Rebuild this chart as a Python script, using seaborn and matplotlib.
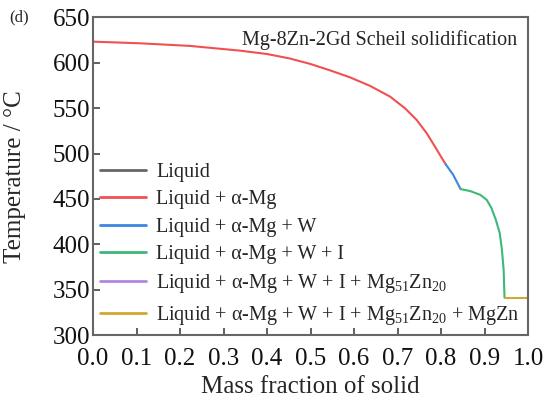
import numpy as np
import pandas as pd
import matplotlib
matplotlib.use("Agg")
import matplotlib.pyplot as plt
import seaborn as sns

# ---- data ----
phases = [
    "Liquid",
    "Liquid + α-Mg",
    "Liquid + α-Mg + W",
    "Liquid + α-Mg + W + I",
    "Liquid + α-Mg + W + I + Mg$_{51}$Zn$_{20}$",
    "Liquid + α-Mg + W + I + Mg$_{51}$Zn$_{20}$ + MgZn",
]
colors = ["#666666", "#f05050", "#3a88e0", "#3cb878", "#b088e0", "#d4a830"]

liq_x = [0.0]
liq_T = [623.1]

amg_x = [0.0, 0.108, 0.223, 0.338, 0.40, 0.453, 0.50, 0.545, 0.591, 0.637,
         0.683, 0.717, 0.744, 0.767, 0.786, 0.802, 0.811]
amg_T = [623.1, 621.3, 618.4, 613.2, 609.5, 604.5, 598.5, 591.5, 583.8, 574.4,
         562.6, 549.9, 537.0, 522.4, 507.7, 494.9, 488.0]

w_x = [0.811, 0.828, 0.845]
w_T = [488.0, 476.6, 460.9]

i_x = [0.845, 0.867, 0.890, 0.905, 0.916, 0.926, 0.935, 0.940, 0.944, 0.946]
i_T = [460.9, 458.7, 454.6, 449.1, 440.0, 427.1, 412.5, 394.2, 372.2, 341.5]

mg51_x = [0.946]
mg51_T = [341.5]

mgzn_x = [0.946, 1.0]
mgzn_T = [341.5, 341.5]

xs = [liq_x, amg_x, w_x, i_x, mg51_x, mgzn_x]
Ts = [liq_T, amg_T, w_T, i_T, mg51_T, mgzn_T]

rows = []
for ph, xx, tt in zip(phases, xs, Ts):
    for a, b in zip(xx, tt):
        rows.append({"x": a, "T": b, "phase": ph})
df = pd.DataFrame(rows)

x_ticks = [0.0, 0.1, 0.2, 0.3, 0.4, 0.5, 0.6, 0.7, 0.8, 0.9, 1.0]
y_ticks = [300, 350, 400, 450, 500, 550, 600, 650]

# ---- styling ----
sns.set_style("ticks")
SERIF = ["Liberation Serif", "DejaVu Serif"]
plt.rcParams["font.family"] = SERIF
plt.rcParams["mathtext.fontset"] = "custom"
plt.rcParams["mathtext.rm"] = "Liberation Serif"
plt.rcParams["mathtext.it"] = "Liberation Serif:italic"

fig = plt.figure(figsize=(5.47, 4.01), dpi=100)
ax = fig.add_axes([93 / 547, 1 - 335.3 / 401, 435 / 547, (335.3 - 17.2) / 401])

sns.lineplot(data=df, x="x", y="T", hue="phase", hue_order=phases,
             palette=colors, estimator=None, sort=False, linewidth=1.5, ax=ax)
for ln in ax.get_lines():
    ln.set_solid_joinstyle("round")

ax.set_xlim(0, 1)
ax.set_ylim(300, 650)
ax.set_xticks(x_ticks)
ax.set_xticklabels([f"{v:.1f}" for v in x_ticks], family=SERIF)
ax.set_yticks(y_ticks)
ax.set_yticklabels([str(v) for v in y_ticks], family=SERIF)
ax.tick_params(direction="in", length=5, width=1.2, labelsize=18,
               color="#444444", labelcolor="#111111")
ax.tick_params(axis="x", pad=9)
ax.tick_params(axis="y", pad=2)
for s in ax.spines.values():
    s.set_color("#666666")
    s.set_linewidth(1.5)
    s.set_visible(True)

ax.set_xlabel("Mass fraction of solid", fontsize=18)
ax.set_ylabel("Temperature / °C", fontsize=18)
ax.yaxis.set_label_coords(-(93 - 15) / 435, 0.5)
ax.xaxis.set_label_coords(0.5, -(387 - 335.3) / 318)
ax.xaxis.label.set_va("center")
ax.yaxis.label.set_va("center")

ax.text(0.975, 0.928, "Mg-8Zn-2Gd Scheil solidification", transform=ax.transAxes,
        ha="right", va="center", fontsize=14.5)
fig.text(19 / 547, 1 - 17 / 401, "(d)", ha="center", va="center", fontsize=12)

leg = ax.legend(loc="upper left", bbox_to_anchor=(7 / 435, (335.3 - 163) / 318),
                frameon=False, fontsize=14.5, handlelength=2.3, handletextpad=0.5,
                labelspacing=0.41, borderaxespad=0, borderpad=0)
for line in leg.get_lines():
    line.set_linewidth(2.0)

fig.savefig("out.png", dpi=100)
